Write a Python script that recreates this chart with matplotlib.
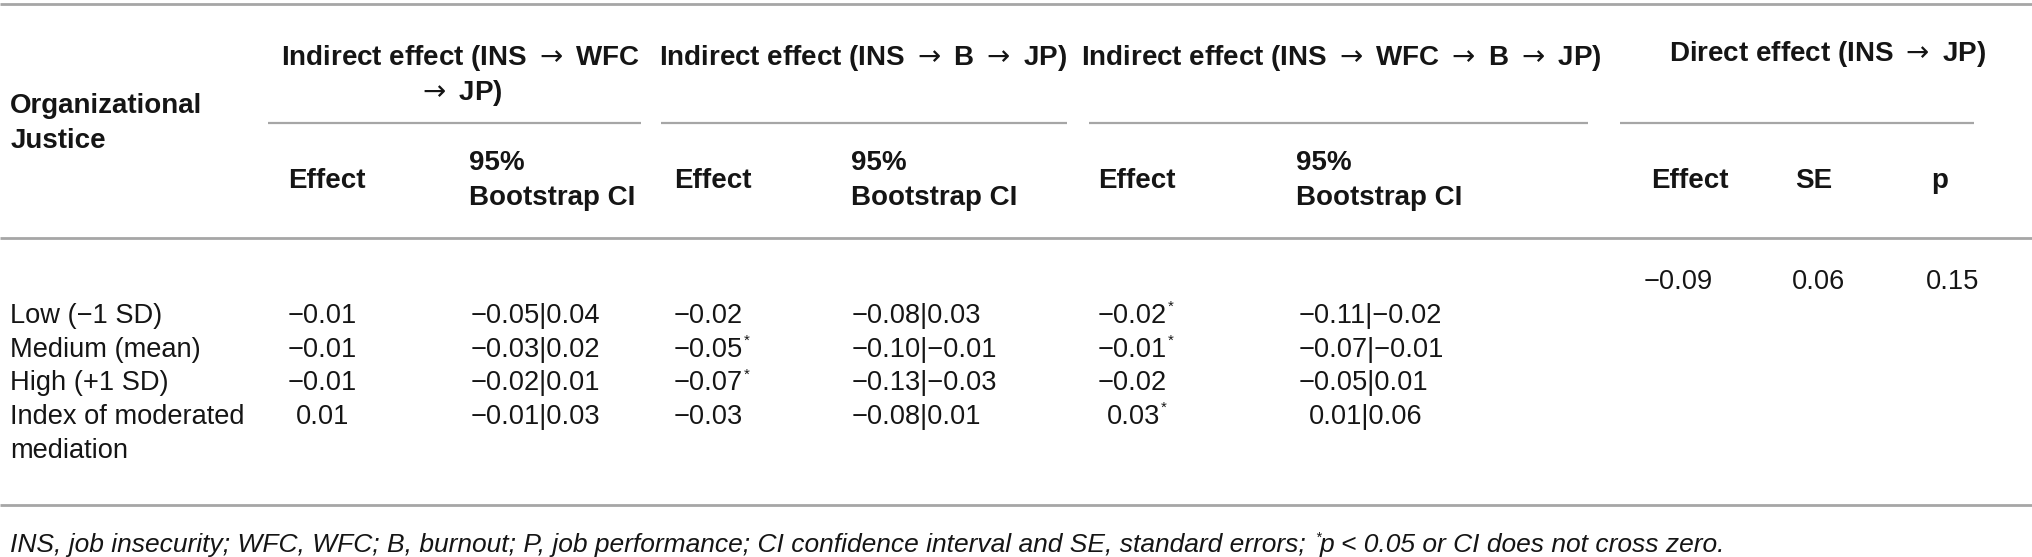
import matplotlib
matplotlib.use("Agg")
import matplotlib.pyplot as plt

# ---------------- data ----------------
row_labels = ["Low (\u22121 SD)", "Medium (mean)", "High (+1 SD)", "Index of moderated\nmediation"]

g1_effect = ["\u22120.01", "\u22120.01", "\u22120.01", "0.01"]
g1_sig = [False, False, False, False]
g1_ci = ["\u22120.05|0.04", "\u22120.03|0.02", "\u22120.02|0.01", "\u22120.01|0.03"]

g2_effect = ["\u22120.02", "\u22120.05", "\u22120.07", "\u22120.03"]
g2_sig = [False, True, True, False]
g2_ci = ["\u22120.08|0.03", "\u22120.10|\u22120.01", "\u22120.13|\u22120.03", "\u22120.08|0.01"]

g3_effect = ["\u22120.02", "\u22120.01", "\u22120.02", "0.03"]
g3_sig = [True, True, False, True]
g3_ci = ["\u22120.11|\u22120.02", "\u22120.07|\u22120.01", "\u22120.05|0.01", "0.01|0.06"]

direct_effect = "\u22120.09"
direct_se = "0.06"
direct_p = "0.15"

group_titles = ["Indirect effect (INS \u2192 WFC\n\u2192 JP)",
                "Indirect effect (INS \u2192 B \u2192 JP)",
                "Indirect effect (INS \u2192 WFC \u2192 B \u2192 JP)",
                "Direct effect (INS \u2192 JP)"]
stub_title = "Organizational\nJustice"
sub_effect = "Effect"
sub_ci = "95%\nBootstrap CI"
sub_direct = ["Effect", "SE", "p"]
footnote = ("INS, job insecurity; WFC, WFC; B, burnout; P, job performance; "
            "CI confidence interval and SE, standard errors; ")
footnote_end = "p < 0.05 or CI does not cross zero."

# ---------------- layout (coordinates in a 1568 x 430 grid) ----------------
W, H = 1568, 430
fig = plt.figure(figsize=(20.32, 5.57), dpi=100)
ax = fig.add_axes([0, 0, 1, 1])
ax.set_xlim(0, W)
ax.set_ylim(H, 0)
ax.axis("off")

plt.rcParams["mathtext.fontset"] = "dejavusans"
fam = ["Liberation Sans", "DejaVu Sans"]
FS_B = 20.0
FS = 19.6
FS_F = 19.0
LINE = "#a6a6a6"
TXT = "#151515"

def T(x, y, s, weight="normal", ha="left", style="normal", size=FS, va="center", lh=26.5):
    lines = s.split("\n")
    objs = []
    for k, ln in enumerate(lines):
        ln = ln.replace("\u2192", r"$\rightarrow$")
        objs.append(ax.text(x, y + k * lh, ln, fontsize=size, fontweight=weight, ha=ha, va=va,
                            family=fam, color=TXT, fontstyle=style))
    return objs

# rules
for yy in [3, 184, 390]:
    ax.plot([0, W], [yy, yy], color=LINE, lw=2.0, solid_capstyle="butt")
for x0, x1 in [(207, 495), (510, 823), (840, 1225), (1250, 1523)]:
    ax.plot([x0, x1], [95, 95], color=LINE, lw=1.6, solid_capstyle="butt")

# headers
T(8, 82, stub_title, weight="bold", size=FS_B)
T(355, 45, group_titles[0], weight="bold", ha="center", size=FS_B, lh=27)
T(666, 45, group_titles[1], weight="bold", ha="center", size=FS_B)
T(1035, 45, group_titles[2], weight="bold", ha="center", size=FS_B)
T(1410, 42, group_titles[3], weight="bold", ha="center", size=FS_B)

sub_y = 140
for x in [222, 520, 847]:
    T(x, sub_y, sub_effect, weight="bold", size=FS_B)
for x in [362, 657, 1000]:
    T(x, 126, sub_ci, weight="bold", size=FS_B, lh=27)
for x, s in zip([1274, 1385, 1490], sub_direct):
    T(x, sub_y, s, weight="bold", size=FS_B)

# body
row_y = [244, 270, 296, 322]
fig.canvas.draw()
renderer = fig.canvas.get_renderer()
inv = ax.transData.inverted()

def right_edge(t):
    bb = t.get_window_extent(renderer)
    return inv.transform([[bb.x1, bb.y0]])[0][0]

def value(x, y, s, sig):
    t = T(x, y, s)[0]
    if sig:
        xr = right_edge(t)
        T(xr + 0.5, y - 7, "*", size=FS * 0.55)

for i, lab in enumerate(row_labels):
    y = row_y[i]
    T(8, y, lab, lh=26)
    value(222 + (6 if i == 3 else 0), y, g1_effect[i], g1_sig[i])
    value(363, y, g1_ci[i], False)
    value(520, y, g2_effect[i], g2_sig[i])
    value(657, y, g2_ci[i], False)
    value(847 + (7 if i == 3 else 0), y, g3_effect[i], g3_sig[i])
    value(1002 + (8 if i == 3 else 0), y, g3_ci[i], False)

T(1268, 218, direct_effect)
T(1383, 218, direct_se)
T(1486, 218, direct_p)

# footnote
ft = T(8, 421, footnote, style="italic", size=FS_F)[0]
xr = right_edge(ft)
T(xr + 1, 415, "*", style="italic", size=FS_F * 0.55)
T(xr + 5, 421, footnote_end, style="italic", size=FS_F)

fig.savefig("out.png", dpi=100, facecolor="white")
